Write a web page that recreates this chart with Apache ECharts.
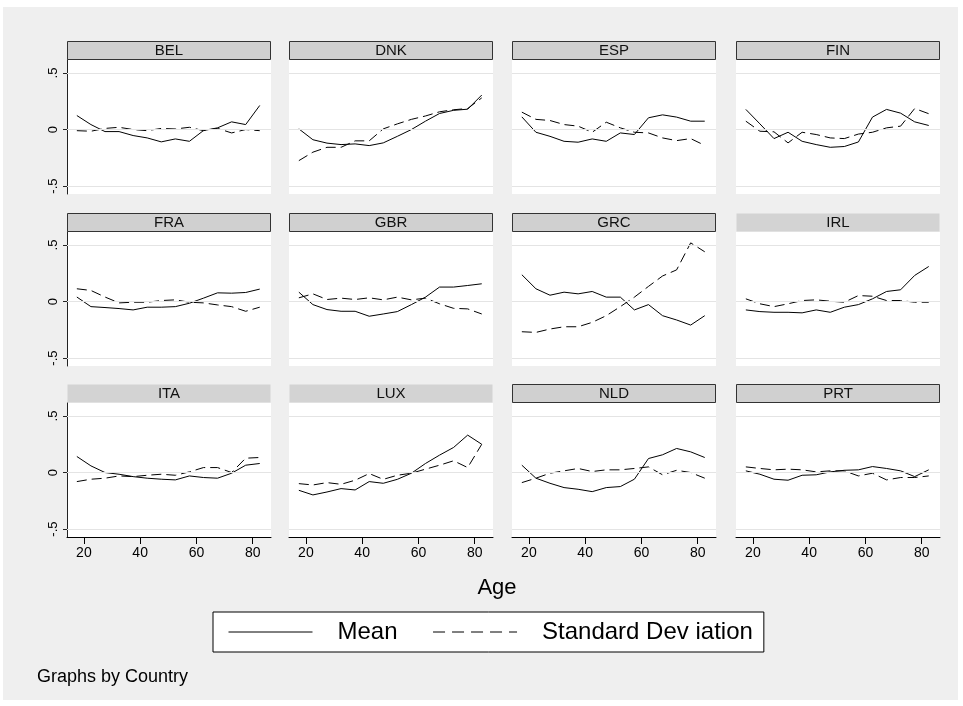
<!DOCTYPE html>
<html>
<head>
<meta charset="utf-8">
<script src="https://cdn.jsdelivr.net/npm/echarts@6/dist/echarts.min.js"></script>
<style>
html,body{margin:0;padding:0;background:#fff;}
#wrap{position:relative;width:963px;height:706px;}
#bg{position:absolute;left:3px;top:7px;width:955px;height:693px;background:#efefef;}
#chart{position:absolute;left:0;top:0;width:963px;height:706px;}
</style>
</head>
<body>
<div id="wrap"><div id="bg"></div><div id="chart"></div></div>
<script>
// ---- data ----
const ages = [17.5, 22.5, 27.5, 32.5, 37.5, 42.5, 47.5, 52.5, 57.5, 62.5, 67.5, 72.5, 77.5, 82.5];
const countries = ['BEL','DNK','ESP','FIN','FRA','GBR','GRC','IRL','ITA','LUX','NLD','PRT'];
const xTicks = [20, 40, 60, 80];
const yTicks = [-0.5, 0, 0.5];
const yTickLabels = ['-.5', '0', '.5'];

const meanBEL = [0.124, 0.044, -0.018, -0.018, -0.053, -0.074, -0.109, -0.083, -0.104, -0.009, 0.015, 0.068, 0.044, 0.213];
const sdBEL   = [-0.01, -0.015, 0.01, 0.02, 0.0, -0.01, 0.01, 0.005, 0.02, -0.01, 0.01, -0.03, 0.0, -0.01];
const meanDNK = [0.006, -0.09, -0.12, -0.133, -0.127, -0.142, -0.118, -0.06, 0.0, 0.074, 0.142, 0.17, 0.18, 0.305];
const sdDNK   = [-0.275, -0.2, -0.157, -0.157, -0.1, -0.1, 0.006, 0.05, 0.09, 0.12, 0.157, 0.175, 0.186, 0.28];
const meanESP = [0.112, -0.024, -0.06, -0.104, -0.112, -0.083, -0.104, -0.03, -0.044, 0.104, 0.13, 0.11, 0.074, 0.074];
const sdESP   = [0.154, 0.09, 0.08, 0.044, 0.03, -0.024, 0.065, 0.015, -0.024, -0.03, -0.074, -0.098, -0.08, -0.14];
const meanFIN = [0.178, 0.05, -0.08, -0.024, -0.104, -0.133, -0.157, -0.15, -0.11, 0.11, 0.178, 0.145, 0.068, 0.036];
const sdFIN   = [0.074, -0.015, -0.02, -0.118, -0.024, -0.044, -0.074, -0.08, -0.04, -0.024, 0.015, 0.03, 0.186, 0.14];
const meanFRA = [0.04, -0.045, -0.053, -0.062, -0.074, -0.05, -0.05, -0.045, -0.015, 0.03, 0.077, 0.074, 0.08, 0.11];
const sdFRA   = [0.113, 0.098, 0.04, -0.012, -0.006, -0.006, 0.009, 0.015, -0.006, -0.012, -0.03, -0.045, -0.086, -0.05];
const meanGBR = [0.083, -0.027, -0.071, -0.086, -0.086, -0.13, -0.11, -0.089, -0.027, 0.039, 0.128, 0.128, 0.142, 0.157];
const sdGBR   = [0.033, 0.068, 0.018, 0.03, 0.018, 0.033, 0.015, 0.039, 0.015, 0.03, -0.02, -0.06, -0.065, -0.11];
const meanGRC = [0.237, 0.113, 0.056, 0.083, 0.068, 0.089, 0.039, 0.039, -0.074, -0.027, -0.125, -0.163, -0.208, -0.125];
const sdGRC   = [-0.267, -0.273, -0.243, -0.223, -0.223, -0.184, -0.125, -0.045, 0.039, 0.134, 0.226, 0.28, 0.519, 0.44];
const meanIRL = [-0.074, -0.089, -0.095, -0.095, -0.1, -0.074, -0.095, -0.05, -0.027, 0.024, 0.089, 0.104, 0.231, 0.31];
const sdIRL   = [0.024, -0.02, -0.045, -0.02, 0.009, 0.015, 0.003, -0.006, 0.053, 0.047, 0.009, 0.009, -0.006, -0.006];
const meanITA = [0.142, 0.059, 0.0, -0.015, -0.036, -0.05, -0.059, -0.065, -0.03, -0.044, -0.05, -0.006, 0.065, 0.08];
const sdITA   = [-0.08, -0.059, -0.05, -0.03, -0.036, -0.024, -0.015, -0.024, 0.006, 0.044, 0.044, 0.0, 0.127, 0.133];
const meanLUX = [-0.157, -0.198, -0.172, -0.142, -0.154, -0.08, -0.095, -0.06, -0.006, 0.08, 0.154, 0.222, 0.331, 0.25];
const sdLUX   = [-0.098, -0.11, -0.089, -0.104, -0.068, -0.009, -0.06, -0.024, -0.006, 0.03, 0.065, 0.104, 0.044, 0.25];
const meanNLD = [0.065, -0.05, -0.095, -0.133, -0.148, -0.169, -0.133, -0.124, -0.059, 0.124, 0.157, 0.213, 0.183, 0.133];
const sdNLD   = [-0.089, -0.05, -0.006, 0.015, 0.036, 0.009, 0.024, 0.024, 0.036, 0.05, -0.02, 0.02, 0.0, -0.05];
const meanPRT = [0.015, -0.015, -0.059, -0.068, -0.024, -0.02, 0.006, 0.02, 0.024, 0.053, 0.036, 0.015, -0.036, 0.024];
const sdPRT   = [0.05, 0.036, 0.024, 0.03, 0.024, 0.006, 0.015, 0.015, -0.03, -0.006, -0.065, -0.044, -0.044, -0.03];

const meanSeries = [meanBEL, meanDNK, meanESP, meanFIN, meanFRA, meanGBR, meanGRC, meanIRL, meanITA, meanLUX, meanNLD, meanPRT];
const sdSeries = [sdBEL, sdDNK, sdESP, sdFIN, sdFRA, sdGBR, sdGRC, sdIRL, sdITA, sdLUX, sdNLD, sdPRT];
const meanName = 'Mean';
const sdName = 'Standard Dev iation';

// ---- layout ----
const colLeft = [67, 289, 512, 736];
const rowTop = [60, 232, 403];
const panelW = 204, panelH = 134, headH = 19;
const noBorderHeads = ['IRL', 'ITA', 'LUX'];
const fontFam = '"Liberation Sans", Arial, sans-serif';

const grids = [], xAxes = [], yAxes = [], series = [], graphics = [];
countries.forEach((c, i) => {
  const row = Math.floor(i / 4), col = i % 4;
  const left = colLeft[col], top = rowTop[row];
  grids.push({left: left, top: top, width: panelW, height: panelH, show: true,
    backgroundColor: '#ffffff', borderWidth: 0});
  const bottomRow = row === 2;
  xAxes.push({
    gridIndex: i, type: 'value', min: 14, max: 86.5, show: bottomRow,
    axisLine: {show: true, onZero: false, lineStyle: {color: '#000', width: 1}},
    axisTick: {show: true, length: 7, customValues: xTicks, lineStyle: {color: '#000'}},
    axisLabel: {show: true, customValues: xTicks, fontSize: 14, color: '#000', margin: 9, fontFamily: fontFam},
    splitLine: {show: false}
  });
  yAxes.push({
    gridIndex: i, type: 'value', min: -0.57, max: 0.615, show: col === 0,
    axisLine: {show: true, onZero: false, lineStyle: {color: '#222', width: 1}},
    axisTick: {show: true, length: 4, customValues: yTicks, lineStyle: {color: '#222'}},
    axisLabel: {show: true, customValues: yTicks, rotate: 90, fontSize: 13, color: '#000', margin: 7,
      fontFamily: fontFam,
      formatter: v => yTickLabels[yTicks.findIndex(t => Math.abs(t - v) < 1e-9)]},
    splitLine: {show: false}
  });
  // reference lines (gridlines) at tick values
  series.push({
    type: 'line', xAxisIndex: i, yAxisIndex: i, data: [], z: 1, silent: true,
    markLine: {silent: true, symbol: ['none', 'none'], label: {show: false},
      lineStyle: {color: '#e4e4e4', type: 'solid', width: 1},
      data: yTicks.map(v => ({yAxis: v}))}
  });
  series.push({
    name: meanName, type: 'line', xAxisIndex: i, yAxisIndex: i, z: 3,
    data: ages.map((a, j) => [a, meanSeries[i][j]]),
    symbol: 'none', lineStyle: {color: '#000', width: 1}, itemStyle: {color: '#000'}
  });
  series.push({
    name: sdName, type: 'line', xAxisIndex: i, yAxisIndex: i, z: 3,
    data: ages.map((a, j) => [a, sdSeries[i][j]]),
    symbol: 'none', lineStyle: {color: '#000', width: 1, type: [10, 5]}, itemStyle: {color: '#000'}
  });
  const bordered = noBorderHeads.indexOf(c) < 0;
  graphics.push({
    type: 'rect', shape: {x: left + 0.5, y: top - headH + 0.5, width: panelW - 1, height: headH - 1},
    style: bordered ? {fill: '#d0d0d0', stroke: '#333', lineWidth: 1} : {fill: '#d3d3d3', stroke: null}
  });
  graphics.push({
    type: 'text', x: left + panelW / 2, y: top - headH / 2 + 0.5,
    style: {text: c, fill: '#111', font: '15px ' + fontFam, textAlign: 'center', textVerticalAlign: 'middle'}
  });
});

graphics.push({type: 'text', x: 497, y: 588,
  style: {text: 'Age', fill: '#000', font: '22px ' + fontFam, textAlign: 'center', textVerticalAlign: 'middle'}});
graphics.push({type: 'text', x: 37, y: 677,
  style: {text: 'Graphs by Country', fill: '#000', font: '18px ' + fontFam, textAlign: 'left', textVerticalAlign: 'middle'}});

const chart = echarts.init(document.getElementById('chart'), null, {renderer: 'canvas'});
chart.setOption({
  animation: false,
  backgroundColor: 'transparent',
  grid: grids,
  xAxis: xAxes,
  yAxis: yAxes,
  series: series,
  graphic: graphics,
  legend: {
    data: [
      {name: meanName, lineStyle: {color: '#000', width: 1, type: 'solid'}},
      {name: sdName, lineStyle: {color: '#000', width: 1, type: [12, 7]}}
    ],
    left: 213, top: 612,
    orient: 'horizontal',
    backgroundColor: '#fff', borderColor: '#000', borderWidth: 1,
    padding: [8, 11, 8, 15],
    itemWidth: 84, itemHeight: 16, itemGap: 35,
    selectedMode: false,
    itemStyle: {opacity: 0},
    textStyle: {fontSize: 24, color: '#000', fontFamily: fontFam, padding: [0, 0, 0, 20]}
  }
});
</script>
</body>
</html>
